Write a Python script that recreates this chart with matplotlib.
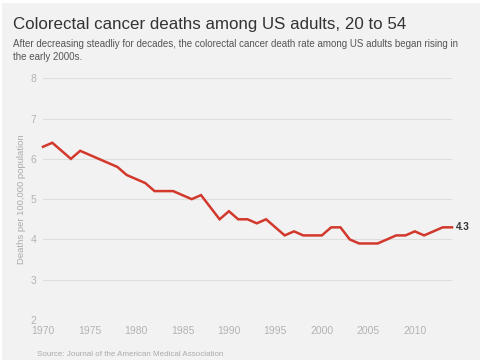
import matplotlib.pyplot as plt
from matplotlib.patches import Rectangle

plt.rcParams["font.family"] = ["Liberation Sans", "DejaVu Sans"]

years = list(range(1970, 2015))
deaths = [6.3, 6.4, 6.2, 6.0, 6.2, 6.1, 6.0, 5.9, 5.8, 5.6,
          5.5, 5.4, 5.2, 5.2, 5.2, 5.1, 5.0, 5.1, 4.8, 4.5,
          4.7, 4.5, 4.5, 4.4, 4.5, 4.3, 4.1, 4.2, 4.1, 4.1,
          4.1, 4.3, 4.3, 4.0, 3.9, 3.9, 3.9, 4.0, 4.1, 4.1,
          4.2, 4.1, 4.2, 4.3, 4.3]
x_ticks = [1970, 1975, 1980, 1985, 1990, 1995, 2000, 2005, 2010]
y_ticks = [2, 3, 4, 5, 6, 7, 8]

bg = "#f2f2f2"
tick_color = "#b3b3b3"

fig = plt.figure(figsize=(4.8, 3.6), dpi=100, facecolor="white")
fig.patches.append(Rectangle((2 / 480, 0), 1, 1 - 3 / 360, transform=fig.transFigure,
                             facecolor=bg, edgecolor="none", zorder=-5))

ax = fig.add_axes([43 / 480, 1 - 320 / 360, (452 - 43) / 480, (320 - 78.3) / 360])
ax.set_facecolor(bg)
ax.plot(years, deaths, color="#d2382c", lw=1.8, solid_joinstyle="miter", clip_on=False)

ax.set_xlim(1970, 2014)
ax.set_ylim(2, 8)
ax.set_xticks(x_ticks)
ax.set_yticks(y_ticks)
ax.grid(axis="y", color="#dedede", lw=0.8)
ax.set_axisbelow(True)
for s in ax.spines.values():
    s.set_visible(False)
ax.tick_params(length=0, colors=tick_color, labelsize=7.5)
ax.tick_params(axis="y", pad=5)
ax.tick_params(axis="x", pad=4)

ax.set_ylabel("Deaths per 100,000 population", color="#aaaaaa", fontsize=6.8, labelpad=3)

ax.annotate(f"{deaths[-1]}", (years[-1], deaths[-1]), xytext=(3, 0),
            textcoords="offset points", va="center", ha="left",
            fontsize=7, fontweight="bold", color="#333333")

fig.text(13 / 480, 1 - 25 / 360, "Colorectal cancer deaths among US adults, 20 to 54",
         fontsize=12.2, color="#333333", va="center", ha="left")
fig.text(13 / 480, 1 - 44 / 360,
         "After decreasing steadliy for decades, the colorectal cancer death rate among US adults began rising in",
         fontsize=7, color="#555555", va="center", ha="left")
fig.text(13 / 480, 1 - 57 / 360, "the early 2000s.",
         fontsize=7, color="#555555", va="center", ha="left")
fig.text(37 / 480, 1 - 355 / 360, "Source: Journal of the American Medical Association",
         fontsize=5.8, color="#aaaaaa", va="center", ha="left")

fig.savefig("out.png", dpi=100, facecolor=fig.get_facecolor())
